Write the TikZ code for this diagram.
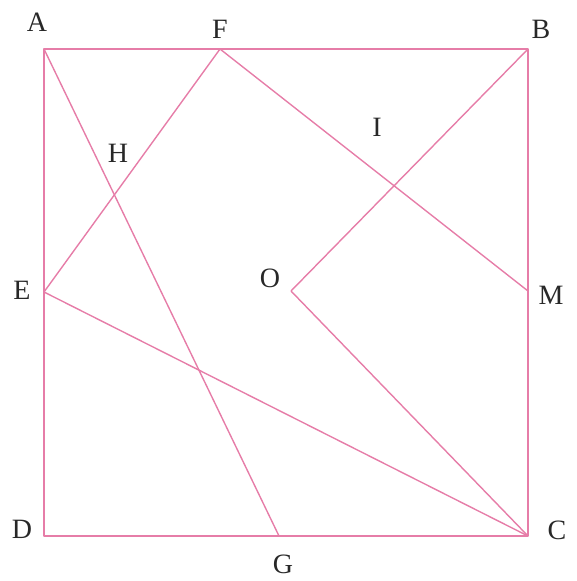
\documentclass[tikz,border=0pt]{standalone}
\usepackage{fontspec}
\setmainfont{Liberation Serif}
\definecolor{pinkline}{RGB}{230,125,168}
\definecolor{labelc}{RGB}{40,40,40}
\begin{document}
\begin{tikzpicture}[x=1pt,y=-1pt,
  seg/.style={draw=pinkline,line width=1.4pt,line join=round},
  lab/.style={text=labelc,font=\fontsize{28}{32}\selectfont,inner sep=0pt}]
\useasboundingbox (0,0) rectangle (576,581);
\coordinate (A) at (44,49);
\coordinate (B) at (528,49);
\coordinate (C) at (528,536);
\coordinate (D) at (44,536);
\coordinate (E) at (44,292);
\coordinate (F) at (220,49);
\coordinate (G) at (279,536);
\coordinate (M) at (528,291);
\coordinate (O) at (291,291);
\draw[seg] (A) -- (B) -- (C) -- (D) -- cycle;
\draw[seg] (A) -- (G);
\draw[seg] (E) -- (F) -- (M);
\draw[seg] (B) -- (O) -- (C);
\draw[seg] (E) -- (C);
\node[lab] (lA) at (37,22) {A};
\node[lab] (lF) at (220,29) {F};
\node[lab] (lB) at (541,29) {B};
\node[lab] (lI) at (377,127) {I};
\node[lab] (lH) at (118,153) {H};
\node[lab] (lE) at (22,290) {E};
\node[lab] (lO) at (270,278) {O};
\node[lab] (lM) at (551,295) {M};
\node[lab] (lD) at (22,529) {D};
\node[lab] (lG) at (283,564) {G};
\node[lab] (lC) at (557,530) {C};
\end{tikzpicture}
\end{document}
